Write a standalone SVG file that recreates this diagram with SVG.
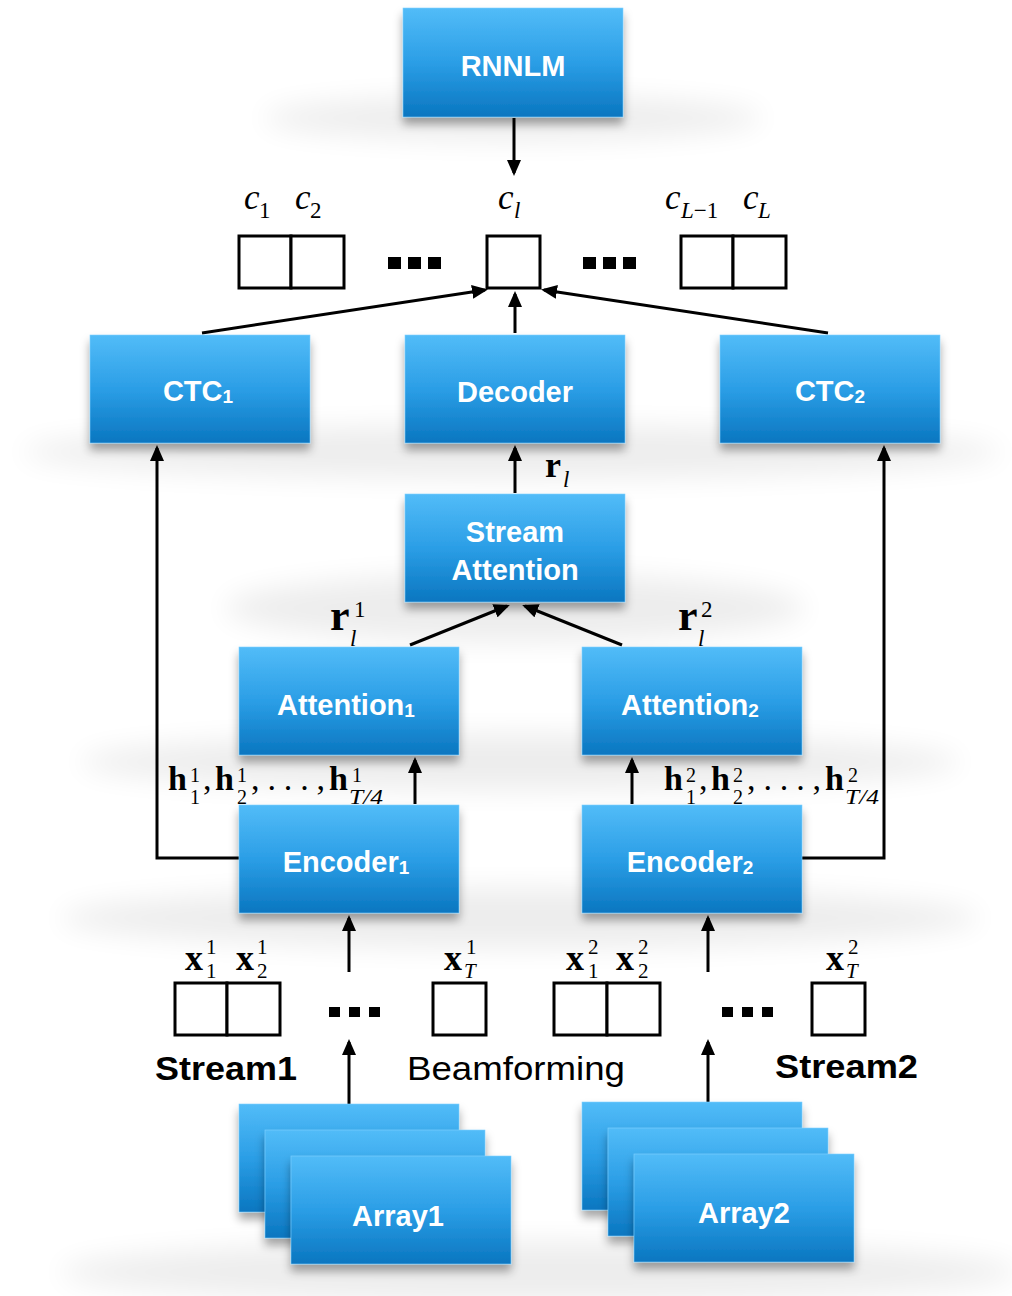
<svg xmlns="http://www.w3.org/2000/svg" width="1012" height="1296" viewBox="0 0 1012 1296">
  <defs>
    <linearGradient id="blue" x1="0" y1="0" x2="0" y2="1">
      <stop offset="0" stop-color="#52bcf8"/>
      <stop offset="0.5" stop-color="#2b9ee6"/>
      <stop offset="1" stop-color="#0a76c0"/>
    </linearGradient>
    <filter id="drop" x="-10%" y="-10%" width="120%" height="140%">
      <feDropShadow dx="0" dy="7" stdDeviation="5" flood-color="#000" flood-opacity="0.35"/>
    </filter>
    <filter id="haze" x="-20%" y="-100%" width="140%" height="300%">
      <feGaussianBlur stdDeviation="14"/>
    </filter>
    <marker id="arrow" viewBox="0 0 16 14" markerWidth="16" markerHeight="14" refX="13" refY="7" orient="auto" markerUnits="userSpaceOnUse">
      <path d="M0,0 L16,7 L0,14 z" fill="#000"/>
    </marker>
    <style>
      .box { fill: url(#blue); stroke: #7fd0ff; stroke-width: 0.6; filter: url(#drop); }
      .lbl { font-family: "Liberation Sans", Arial, sans-serif; font-weight: bold; font-size: 29px; fill: #fff; text-anchor: middle; }
      .sub { font-size: 19px; }
      .cell { fill: #fff; stroke: #000; stroke-width: 3; }
      .dot { fill: #000; }
      .conn { fill: none; stroke: #000; stroke-width: 3; marker-end: url(#arrow); }
      .m { font-family: "Liberation Serif", "Times New Roman", serif; fill: #000; }
      .b { font-weight: bold; }
      .i { font-style: italic; }
      .cap { font-family: "Liberation Sans", Arial, sans-serif; fill: #000; font-size: 33px; }
      .haze { fill: #000; opacity: 0.07; filter: url(#haze); }
    </style>
  </defs>

  <rect width="1012" height="1296" fill="#fff"/>

  <!-- soft floor shading under each row -->
  <g id="floor">
    <ellipse class="haze" cx="513" cy="118" rx="250" ry="22"/>
    <ellipse class="haze" cx="512" cy="452" rx="490" ry="26"/>
    <ellipse class="haze" cx="515" cy="608" rx="290" ry="34"/>
    <ellipse class="haze" cx="520" cy="762" rx="440" ry="28"/>
    <ellipse class="haze" cx="520" cy="918" rx="460" ry="30"/>
    <ellipse class="haze" cx="540" cy="1272" rx="480" ry="30"/>
  </g>

  <!-- connectors -->
  <g id="connectors">
    <line class="conn" x1="514" y1="118" x2="514" y2="173"/>
    <line class="conn" x1="202" y1="333" x2="485" y2="290"/>
    <line class="conn" x1="515" y1="333" x2="515" y2="294"/>
    <line class="conn" x1="828" y1="333" x2="544" y2="290"/>
    <line class="conn" x1="515" y1="493" x2="515" y2="448"/>
    <line class="conn" x1="410" y1="645" x2="507" y2="606"/>
    <line class="conn" x1="622" y1="645" x2="525" y2="606"/>
    <line class="conn" x1="415" y1="804" x2="415" y2="760"/>
    <line class="conn" x1="632" y1="804" x2="632" y2="760"/>
    <polyline class="conn" points="239,858 157,858 157,448"/>
    <polyline class="conn" points="802,858 884,858 884,448"/>
    <line class="conn" x1="349" y1="972" x2="349" y2="918"/>
    <line class="conn" x1="708" y1="972" x2="708" y2="918"/>
    <line class="conn" x1="349" y1="1104" x2="349" y2="1042"/>
    <line class="conn" x1="708" y1="1102" x2="708" y2="1042"/>
  </g>

  <!-- output label sequence c_1 ... c_L -->
  <g id="outputs">
    <rect class="cell" x="239" y="236" width="52" height="52"/>
    <rect class="cell" x="291" y="236" width="53" height="52"/>
    <rect class="cell" x="487" y="236" width="53" height="52"/>
    <rect class="cell" x="681" y="236" width="52" height="52"/>
    <rect class="cell" x="733" y="236" width="53" height="52"/>
    <rect class="dot" x="388" y="257" width="13" height="12"/>
    <rect class="dot" x="408" y="257" width="13" height="12"/>
    <rect class="dot" x="428" y="257" width="13" height="12"/>
    <rect class="dot" x="583" y="257" width="13" height="12"/>
    <rect class="dot" x="603" y="257" width="13" height="12"/>
    <rect class="dot" x="623" y="257" width="13" height="12"/>
    <text class="m i" x="244" y="209" font-size="35">c</text>
    <text class="m" x="259" y="218" font-size="23">1</text>
    <text class="m i" x="295" y="209" font-size="35">c</text>
    <text class="m" x="310" y="218" font-size="23">2</text>
    <text class="m i" x="498" y="209" font-size="35">c</text>
    <text class="m i" x="514" y="218" font-size="23">l</text>
    <text class="m i" x="665" y="209" font-size="35">c</text>
    <text class="m" x="681" y="218" font-size="23"><tspan font-style="italic">L</tspan>−1</text>
    <text class="m i" x="743" y="209" font-size="35">c</text>
    <text class="m i" x="758" y="218" font-size="23">L</text>
  </g>

  <g id="rnnlm">
    <rect class="box" x="403" y="8" width="220" height="109"/>
    <text class="lbl" x="513" y="76">RNNLM</text>
  </g>

  <g id="ctc1">
    <rect class="box" x="90" y="335" width="220" height="108"/>
    <text class="lbl" x="198" y="401">CTC<tspan class="sub" dy="2">1</tspan></text>
  </g>

  <g id="decoder">
    <rect class="box" x="405" y="335" width="220" height="108"/>
    <text class="lbl" x="515" y="402">Decoder</text>
  </g>

  <g id="ctc2">
    <rect class="box" x="720" y="335" width="220" height="108"/>
    <text class="lbl" x="830" y="401">CTC<tspan class="sub" dy="2">2</tspan></text>
  </g>

  <g id="stream-attention">
    <rect class="box" x="405" y="494" width="220" height="108"/>
    <text class="lbl" x="515" y="542">Stream</text>
    <text class="lbl" x="515" y="580">Attention</text>
  </g>
  <text class="m b" x="545" y="477" font-size="36">r</text>
  <text class="m i" x="563" y="487" font-size="23">l</text>

  <g id="attention1">
    <rect class="box" x="239" y="647" width="220" height="108"/>
    <text class="lbl" x="346" y="715">Attention<tspan class="sub" dy="2">1</tspan></text>
  </g>
  <text class="m b" x="330" y="630" font-size="44">r</text>
  <text class="m" x="354" y="617" font-size="23">1</text>
  <text class="m i" x="350" y="646" font-size="23">l</text>

  <g id="attention2">
    <rect class="box" x="582" y="647" width="220" height="108"/>
    <text class="lbl" x="690" y="715">Attention<tspan class="sub" dy="2">2</tspan></text>
  </g>
  <text class="m b" x="678" y="630" font-size="44">r</text>
  <text class="m" x="701" y="617" font-size="23">2</text>
  <text class="m i" x="698" y="646" font-size="23">l</text>

  <!-- encoder output sequences -->
  <g id="h1-label">
    <text class="m b" x="168" y="790" font-size="34">h</text>
    <text class="m" x="190" y="782" font-size="20">1</text>
    <text class="m" x="190" y="804" font-size="20">1</text>
    <text class="m" x="203" y="790" font-size="34">,</text>
    <text class="m b" x="215" y="790" font-size="34">h</text>
    <text class="m" x="237" y="782" font-size="20">1</text>
    <text class="m" x="237" y="804" font-size="20">2</text>
    <text class="m" x="251" y="790" font-size="34" textLength="74" lengthAdjust="spacing">, . . . ,</text>
    <text class="m b" x="329" y="790" font-size="34">h</text>
    <text class="m" x="352" y="782" font-size="20">1</text>
    <text class="m i" x="349" y="804" font-size="21" textLength="34" lengthAdjust="spacingAndGlyphs">T/4</text>
  </g>
  <g id="h2-label">
    <text class="m b" x="664" y="790" font-size="34">h</text>
    <text class="m" x="686" y="782" font-size="20">2</text>
    <text class="m" x="686" y="804" font-size="20">1</text>
    <text class="m" x="699" y="790" font-size="34">,</text>
    <text class="m b" x="711" y="790" font-size="34">h</text>
    <text class="m" x="733" y="782" font-size="20">2</text>
    <text class="m" x="733" y="804" font-size="20">2</text>
    <text class="m" x="747" y="790" font-size="34" textLength="74" lengthAdjust="spacing">, . . . ,</text>
    <text class="m b" x="825" y="790" font-size="34">h</text>
    <text class="m" x="848" y="782" font-size="20">2</text>
    <text class="m i" x="845" y="804" font-size="21" textLength="34" lengthAdjust="spacingAndGlyphs">T/4</text>
  </g>

  <g id="encoder1">
    <rect class="box" x="239" y="805" width="220" height="108"/>
    <text class="lbl" x="346" y="872">Encoder<tspan class="sub" dy="2">1</tspan></text>
  </g>

  <g id="encoder2">
    <rect class="box" x="582" y="805" width="220" height="108"/>
    <text class="lbl" x="690" y="872">Encoder<tspan class="sub" dy="2">2</tspan></text>
  </g>

  <!-- input feature sequences -->
  <g id="stream1">
    <rect class="cell" x="175" y="983" width="52" height="52"/>
    <rect class="cell" x="227" y="983" width="53" height="52"/>
    <rect class="cell" x="433" y="983" width="53" height="52"/>
    <rect class="dot" x="329" y="1007" width="11" height="10"/>
    <rect class="dot" x="349" y="1007" width="11" height="10"/>
    <rect class="dot" x="369" y="1007" width="11" height="10"/>
    <text class="m b" x="185" y="970" font-size="36">x</text>
    <text class="m" x="206" y="954" font-size="21">1</text>
    <text class="m" x="206" y="978" font-size="21">1</text>
    <text class="m b" x="236" y="970" font-size="36">x</text>
    <text class="m" x="257" y="954" font-size="21">1</text>
    <text class="m" x="257" y="978" font-size="21">2</text>
    <text class="m b" x="444" y="970" font-size="36">x</text>
    <text class="m" x="466" y="954" font-size="21">1</text>
    <text class="m i" x="464" y="978" font-size="21">T</text>
    <text class="cap b" x="155" y="1080" textLength="142" lengthAdjust="spacingAndGlyphs">Stream1</text>
  </g>

  <text class="cap" x="407" y="1080" textLength="218" lengthAdjust="spacingAndGlyphs">Beamforming</text>

  <g id="stream2">
    <rect class="cell" x="554" y="983" width="53" height="52"/>
    <rect class="cell" x="607" y="983" width="53" height="52"/>
    <rect class="cell" x="812" y="983" width="53" height="52"/>
    <rect class="dot" x="722" y="1007" width="11" height="10"/>
    <rect class="dot" x="742" y="1007" width="11" height="10"/>
    <rect class="dot" x="762" y="1007" width="11" height="10"/>
    <text class="m b" x="566" y="970" font-size="36">x</text>
    <text class="m" x="588" y="954" font-size="21">2</text>
    <text class="m" x="588" y="978" font-size="21">1</text>
    <text class="m b" x="616" y="970" font-size="36">x</text>
    <text class="m" x="638" y="954" font-size="21">2</text>
    <text class="m" x="638" y="978" font-size="21">2</text>
    <text class="m b" x="826" y="970" font-size="36">x</text>
    <text class="m" x="848" y="954" font-size="21">2</text>
    <text class="m i" x="846" y="978" font-size="21">T</text>
    <text class="cap b" x="775" y="1078" textLength="143" lengthAdjust="spacingAndGlyphs">Stream2</text>
  </g>

  <g id="array1">
    <rect class="box" x="239" y="1104" width="220" height="108"/>
    <rect class="box" x="265" y="1130" width="220" height="108"/>
    <rect class="box" x="291" y="1156" width="220" height="108"/>
    <text class="lbl" x="398" y="1226">Array1</text>
  </g>

  <g id="array2">
    <rect class="box" x="582" y="1102" width="220" height="108"/>
    <rect class="box" x="608" y="1128" width="220" height="108"/>
    <rect class="box" x="634" y="1154" width="220" height="108"/>
    <text class="lbl" x="744" y="1223">Array2</text>
  </g>
</svg>
